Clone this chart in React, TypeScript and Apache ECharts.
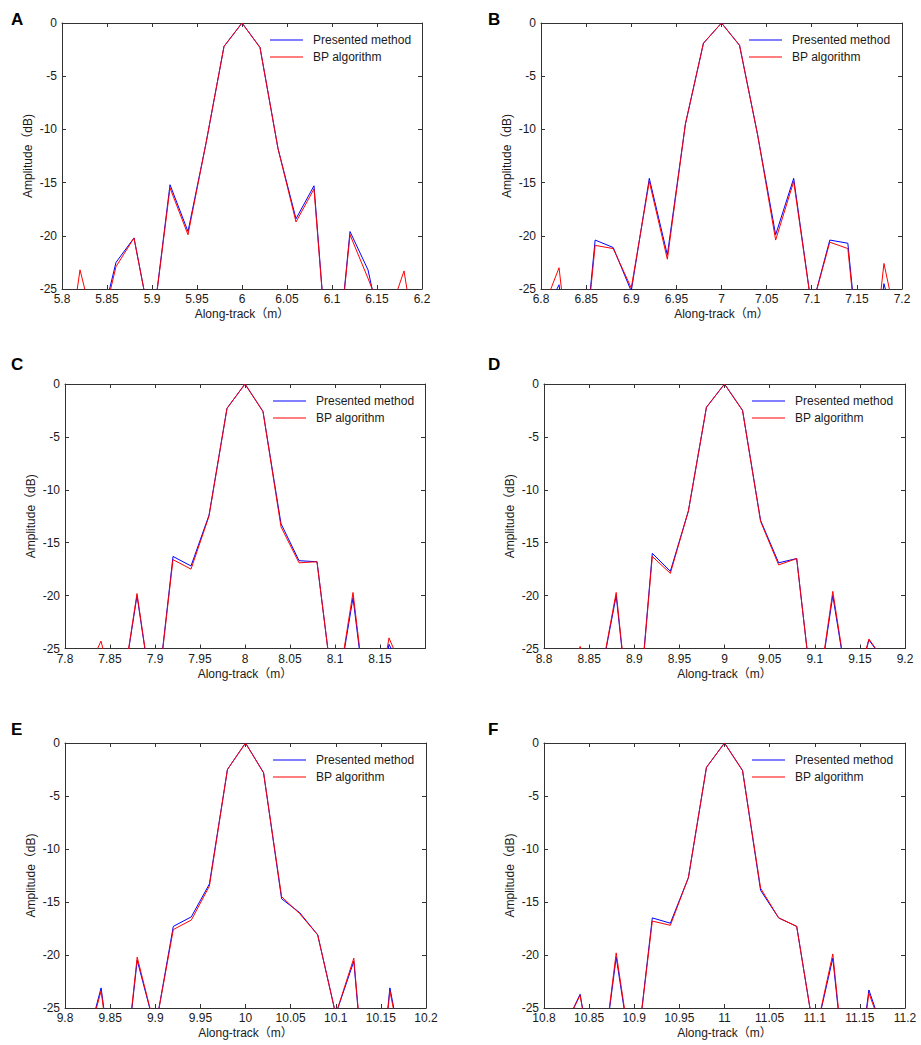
import React, { useEffect, useRef } from 'react';
import * as echarts from 'echarts';

// Sample offsets (m) relative to each target centre
const OFFSETS = [-0.2, -0.18, -0.16, -0.14, -0.12, -0.1, -0.08, -0.06, -0.04, -0.02, 0, 0.02, 0.04, 0.06, 0.08, 0.1, 0.12, 0.14, 0.16, 0.18, 0.2];

const CENTERS = [6, 7, 8, 9, 10, 11];
const PANEL_LABELS = ['A', 'B', 'C', 'D', 'E', 'F'];
const SERIES_NAMES = ['Presented method', 'BP algorithm'];

// Amplitude (dB) values; values below -25 fall outside the plotted range
const A_PRESENTED = [-35, -25.2, -29.5, -22.5, -20.2, -29, -15.2, -19.6, -11.3, -2.2, 0, -2.3, -11.8, -18.4, -15.3, -37, -19.6, -23.2, -31, -27, -34];
const A_BP = [-35, -23.2, -30, -22.9, -20.2, -29, -15.5, -19.9, -11.3, -2.2, 0, -2.3, -11.8, -18.7, -15.6, -37, -19.9, -24.0, -28.3, -23.3, -33.8];

const B_PRESENTED = [-28, -24.6, -38, -20.4, -21.1, -25.2, -14.6, -21.8, -9.5, -1.9, 0, -2.1, -10.5, -19.9, -14.6, -26.8, -20.4, -20.7, -38, -24.5, -31];
const B_BP = [-27.4, -23.0, -38, -20.9, -21.2, -24.9, -14.9, -22.2, -9.5, -1.9, 0, -2.1, -10.5, -20.4, -14.9, -26.8, -20.6, -21.2, -38, -22.6, -30.6];

const C_PRESENTED = [-33, -28, -27, -31, -20.0, -31.5, -16.3, -17.2, -12.4, -2.3, 0, -2.6, -13.2, -16.7, -16.8, -30.5, -20.2, -34, -24.6, -28, -33];
const C_BP = [-33, -28, -24.3, -31, -19.8, -31.5, -16.6, -17.5, -12.5, -2.3, 0, -2.6, -13.5, -16.9, -16.8, -30.5, -19.7, -34, -24.0, -28, -33];

const D_PRESENTED = [-33, -30, -26, -29, -20.0, -36, -16.0, -17.7, -12.0, -2.2, 0, -2.5, -12.9, -16.9, -16.5, -31.5, -20.0, -30.6, -24.2, -26.5, -32];
const D_BP = [-33, -30, -24.8, -29, -19.7, -36, -16.3, -17.9, -12.0, -2.2, 0, -2.5, -13.0, -17.1, -16.5, -31.5, -19.6, -30.6, -24.1, -26.5, -32];

const E_PRESENTED = [-34, -29.6, -23.1, -36, -20.5, -27, -17.3, -16.4, -13.3, -2.5, 0, -2.8, -14.7, -16.0, -18.1, -25.6, -20.6, -40, -23.1, -32, -34];
const E_BP = [-34, -29.6, -23.4, -36, -20.2, -27, -17.6, -16.7, -13.5, -2.5, 0, -2.8, -14.5, -16.1, -18.1, -25.6, -20.3, -40, -23.4, -32, -34];

const F_PRESENTED = [-33, -27.3, -23.7, -33.5, -20.2, -31.3, -16.5, -17.0, -12.7, -2.3, 0, -2.6, -13.9, -16.5, -17.3, -27.8, -20.3, -36.5, -23.3, -28.3, -33];
const F_BP = [-33, -27.3, -23.8, -33.5, -19.8, -31.3, -16.8, -17.2, -12.7, -2.3, 0, -2.6, -13.7, -16.5, -17.3, -27.8, -19.9, -36.5, -23.6, -28.3, -33];

const PRESENTED = [A_PRESENTED, B_PRESENTED, C_PRESENTED, D_PRESENTED, E_PRESENTED, F_PRESENTED];
const BP = [A_BP, B_BP, C_BP, D_BP, E_BP, F_BP];

const Y_MIN = -25;
const Y_MAX = 0;
const Y_INTERVAL = 5;
const X_HALF_SPAN = 0.2;
const X_INTERVAL = 0.05;

// Layout (pixels)
const GRIDS = [
  { left: 62, top: 23, width: 360, height: 266 },
  { left: 541, top: 23, width: 361, height: 266 },
  { left: 65, top: 384, width: 360, height: 264.5 },
  { left: 544, top: 384, width: 361, height: 264.5 },
  { left: 65, top: 743, width: 361, height: 265 },
  { left: 544, top: 743, width: 361, height: 265 },
];
const LETTER_POS = [
  [11, 11], [488, 11], [11, 356], [488, 356], [11, 721], [488, 721],
];
const HIDE_MAX_LABEL = [false, false, true, false, false, false];

const FONT = '"Liberation Sans", Arial, "Noto Sans CJK SC", sans-serif';
const AXIS_COLOR = '#333';
const TEXT_COLOR = '#1a1a1a';

function buildOption() {
  const grid: any[] = [];
  const xAxis: any[] = [];
  const yAxis: any[] = [];
  const series: any[] = [];
  const legend: any[] = [];
  const graphic: any[] = [];

  CENTERS.forEach((c, i) => {
    const g = GRIDS[i];
    grid.push({ ...g, containLabel: false });
    const xMin = Math.round((c - X_HALF_SPAN) * 100) / 100;
    const xMax = Math.round((c + X_HALF_SPAN) * 100) / 100;
    const hideMax = HIDE_MAX_LABEL[i];
    const axisLine = { show: true, onZero: false, lineStyle: { color: AXIS_COLOR, width: 1 } };
    const axisTick = { show: true, inside: true, length: 4, lineStyle: { color: AXIS_COLOR, width: 1 } };
    xAxis.push({
      type: 'value', gridIndex: i, min: xMin, max: xMax, interval: X_INTERVAL, position: 'bottom',
      axisLine, axisTick, splitLine: { show: false },
      axisLabel: {
        margin: 4, fontSize: 12, color: TEXT_COLOR, fontFamily: FONT,
        formatter: (v: number) => {
          const r = Math.round(v * 100) / 100;
          if (hideMax && r >= xMax - 1e-9) return '';
          return String(r);
        },
      },
      name: 'Along-track（m）', nameLocation: 'middle', nameGap: 19,
      nameTextStyle: { fontSize: 12, color: TEXT_COLOR, fontFamily: FONT },
    });
    xAxis.push({
      type: 'value', gridIndex: i, min: xMin, max: xMax, interval: X_INTERVAL, position: 'top',
      axisLine, axisTick, splitLine: { show: false }, axisLabel: { show: false },
    });
    yAxis.push({
      type: 'value', gridIndex: i, min: Y_MIN, max: Y_MAX, interval: Y_INTERVAL, position: 'left',
      axisLine, axisTick, splitLine: { show: false },
      axisLabel: { margin: 5, fontSize: 12, color: TEXT_COLOR, fontFamily: FONT },
      name: 'Amplitude（dB)', nameLocation: 'middle', nameGap: 28,
      nameTextStyle: { fontSize: 12, color: TEXT_COLOR, fontFamily: FONT },
    });
    yAxis.push({
      type: 'value', gridIndex: i, min: Y_MIN, max: Y_MAX, interval: Y_INTERVAL, position: 'right',
      axisLine, axisTick, splitLine: { show: false }, axisLabel: { show: false },
    });

    const xs = OFFSETS.map((o) => Math.round((c + o) * 100) / 100);
    [PRESENTED[i], BP[i]].forEach((vals, k) => {
      const color = k === 0 ? '#0000ff' : '#ff0000';
      series.push({
        type: 'line', name: SERIES_NAMES[k], xAxisIndex: 2 * i, yAxisIndex: 2 * i,
        data: xs.map((x, j) => [x, vals[j]]),
        symbol: 'none', showSymbol: false, clip: true,
        lineStyle: { color, width: 1 }, itemStyle: { color },
        z: k === 0 ? 2 : 3,
      });
    });

    legend.push({
      data: SERIES_NAMES, orient: 'vertical', left: g.left + 208, top: g.top + 10,
      icon: 'rect', itemWidth: 33, itemHeight: 1.2, itemGap: 3, padding: 0, selectedMode: false,
      textStyle: { fontSize: 12, color: TEXT_COLOR, fontFamily: FONT, padding: [0, 0, 0, 5], lineHeight: 14 },
    });

    graphic.push({
      type: 'text', left: LETTER_POS[i][0], top: LETTER_POS[i][1],
      style: { text: PANEL_LABELS[i], fontSize: 17, fontWeight: 'bold', fontFamily: FONT, fill: '#000' },
    });
  });

  return { animation: false, backgroundColor: '#fff', grid, xAxis, yAxis, series, legend, graphic };
}

export default function App() {
  const ref = useRef<HTMLDivElement>(null);
  useEffect(() => {
    const chart = echarts.init(ref.current as HTMLDivElement, null, { renderer: 'svg' });
    chart.setOption(buildOption());
    return () => chart.dispose();
  }, []);
  return (
    <div
      ref={ref}
      style={{ position: 'absolute', left: 0, top: 0, width: 921, height: 1045, background: '#fff' }}
    />
  );
}
